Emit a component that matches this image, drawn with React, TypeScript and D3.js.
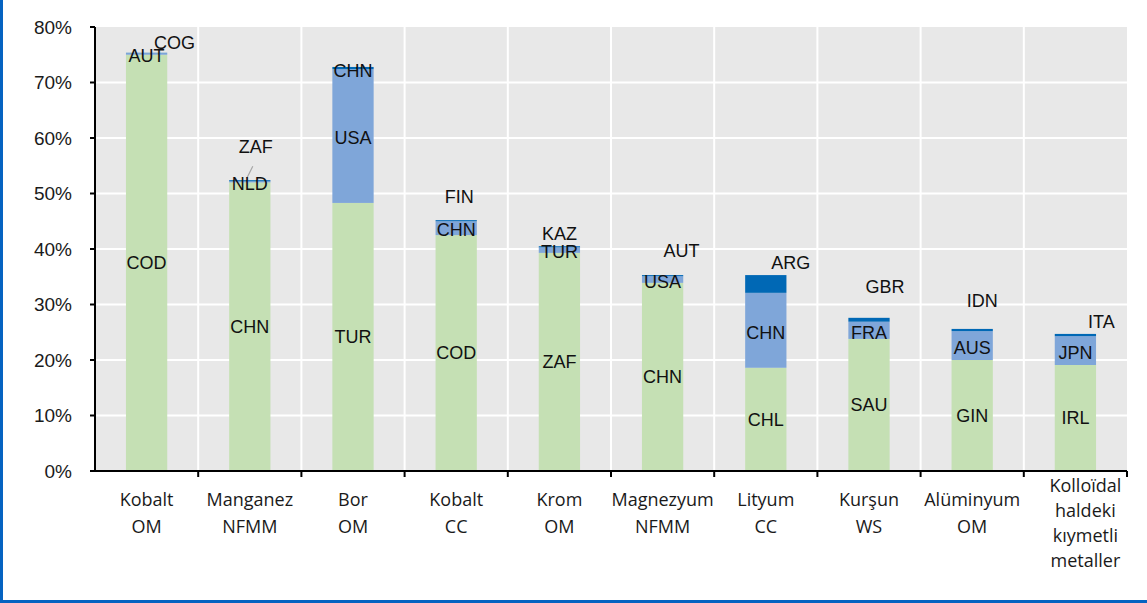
import React from 'react';
import * as d3 from 'd3';

// categories (each entry = lines of the x label)
const categories = [
  ['Kobalt', 'OM'],
  ['Manganez', 'NFMM'],
  ['Bor', 'OM'],
  ['Kobalt', 'CC'],
  ['Krom', 'OM'],
  ['Magnezyum', 'NFMM'],
  ['Lityum', 'CC'],
  ['Kurşun', 'WS'],
  ['Alüminyum', 'OM'],
  ['Kolloïdal', 'haldeki', 'kıymetli', 'metaller'],
];

// share of top 3 countries, in %
const firstVals = [75.0, 52.0, 48.3, 42.5, 39.3, 33.9, 18.6, 23.8, 20.0, 19.1];
const secondVals = [0.3, 0.2, 24.1, 2.5, 1.0, 1.2, 13.5, 3.1, 5.2, 5.2];
const thirdVals = [0.05, 0.2, 0.4, 0.2, 0.2, 0.2, 3.2, 0.7, 0.4, 0.4];

const firstNames = ['COD', 'CHN', 'TUR', 'COD', 'ZAF', 'CHN', 'CHL', 'SAU', 'GIN', 'IRL'];
const secondNames = ['AUT', 'NLD', 'USA', 'CHN', 'TUR', 'USA', 'CHN', 'FRA', 'AUS', 'JPN'];
const thirdNames = ['COG', 'ZAF', 'CHN', 'FIN', 'KAZ', 'AUT', 'ARG', 'GBR', 'IDN', 'ITA'];

const yTicks = [0, 10, 20, 30, 40, 50, 60, 70, 80];

// label nudges for the third-country labels (px, from bar top)
const thirdLabelNudge: [number, number][] = [
  [28, -10], [6, -33], [0, 4], [3, -23], [0, -13],
  [19, -24], [25, -12], [16, -31], [10, -28], [26, -12],
];

const W = 1147;
const H = 603;
const margin = { top: 27, right: 20, bottom: 132, left: 95 };

const colors = ['#c5e0b4', '#7fa6d9', '#0068b5'];
const labelFont = '"Liberation Sans", Arial, sans-serif';
const catFont = '"Open Sans", Lato, sans-serif';

export default function App() {
  const x = d3
    .scaleBand<number>()
    .domain(categories.map((_, i) => i))
    .range([margin.left, W - margin.right]);

  const y = d3
    .scaleLinear()
    .domain([0, 80])
    .range([H - margin.bottom, margin.top]);

  const barW = x.bandwidth() * 0.4;

  const stacked = categories.map((_, i) => {
    const vals = [firstVals[i], secondVals[i], thirdVals[i]];
    let acc = 0;
    return vals.map((v) => {
      const seg = { y0: acc, y1: acc + v };
      acc += v;
      return seg;
    });
  });

  const x0 = margin.left;
  const x1 = W - margin.right;
  const yBase = y(0);

  return (
    <svg
      width={W}
      height={H}
      style={{ position: 'absolute', left: 0, top: 0, background: '#fff' }}
    >
      {/* frame edges */}
      <rect x={0} y={0} width={3} height={H} fill="#0563c1" />
      <rect x={0} y={H - 3} width={W} height={3} fill="#0563c1" />

      {/* plot background */}
      <rect x={x0} y={y(80)} width={x1 - x0} height={yBase - y(80)} fill="#e8e8e8" />

      {/* horizontal grid */}
      {yTicks.slice(1, -1).map((t) => (
        <line key={t} x1={x0} x2={x1} y1={y(t)} y2={y(t)} stroke="#fff" strokeWidth={2} />
      ))}
      {/* vertical grid */}
      {categories.slice(1).map((_, i) => (
        <line
          key={i}
          x1={x(i + 1)!}
          x2={x(i + 1)!}
          y1={y(80)}
          y2={yBase}
          stroke="#fff"
          strokeWidth={2}
        />
      ))}

      {/* bars */}
      {stacked.map((segs, i) => {
        const cx = x(i)! + x.bandwidth() / 2;
        return (
          <g key={i}>
            {segs.map((s, k) => (
              <rect
                key={k}
                x={cx - barW / 2}
                y={y(s.y1)}
                width={barW}
                height={Math.max(y(s.y0) - y(s.y1), 0)}
                fill={colors[k]}
              />
            ))}
          </g>
        );
      })}

      {/* leader line for ZAF */}
      <line
        x1={x(1)! + x.bandwidth() / 2 + 3}
        y1={y(52.4) - 14}
        x2={x(1)! + x.bandwidth() / 2 - 3}
        y2={y(52.4) - 2}
        stroke="#a6a6a6"
        strokeWidth={1.2}
      />

      {/* bar labels */}
      <g fontFamily={labelFont} fontSize={18} fill="#111" textAnchor="middle">
        {stacked.map((segs, i) => {
          const cx = x(i)! + x.bandwidth() / 2;
          const top = y(segs[2].y1);
          const [dx, dy] = thirdLabelNudge[i];
          return (
            <g key={i}>
              <text x={cx} y={y((segs[0].y0 + segs[0].y1) / 2)} dy="0.35em">
                {firstNames[i]}
              </text>
              <text x={cx} y={y((segs[1].y0 + segs[1].y1) / 2) + 2} dy="0.35em">
                {secondNames[i]}
              </text>
              <text x={cx + dx} y={top + dy} dy="0.35em">
                {thirdNames[i]}
              </text>
            </g>
          );
        })}
      </g>

      {/* y axis */}
      <line x1={x0} x2={x0} y1={y(80)} y2={yBase} stroke="#000" strokeWidth={2} />
      {yTicks.map((t) => (
        <g key={t}>
          <line x1={x0 - 5} x2={x0} y1={y(t)} y2={y(t)} stroke="#000" strokeWidth={2} />
          <text
            x={x0 - 23}
            y={y(t)}
            dy="0.35em"
            textAnchor="end"
            fontFamily={labelFont}
            fontSize={19}
            fill="#1a1a1a"
          >
            {t}%
          </text>
        </g>
      ))}

      {/* x axis */}
      <line x1={x0} x2={x1} y1={yBase} y2={yBase} stroke="#000" strokeWidth={2} />
      {categories.map((_, i) => (
        <line
          key={i}
          x1={x(i)! + x.bandwidth()}
          x2={x(i)! + x.bandwidth()}
          y1={yBase}
          y2={yBase + 6}
          stroke="#000"
          strokeWidth={2}
        />
      ))}
      <g fontFamily={catFont} fontSize={18} fill="#1a1a1a" textAnchor="middle">
        {categories.map((lines, i) => {
          const cx = x(i)! + x.bandwidth() / 2 + (lines.length > 2 ? 10 : 0);
          const startY = lines.length > 2 ? 486 : 500;
          const step = lines.length > 2 ? 25 : 27;
          return (
            <text key={i} x={cx}>
              {lines.map((l, j) => (
                <tspan key={j} x={cx} y={startY + j * step} dy="0.35em">
                  {l}
                </tspan>
              ))}
            </text>
          );
        })}
      </g>
    </svg>
  );
}
